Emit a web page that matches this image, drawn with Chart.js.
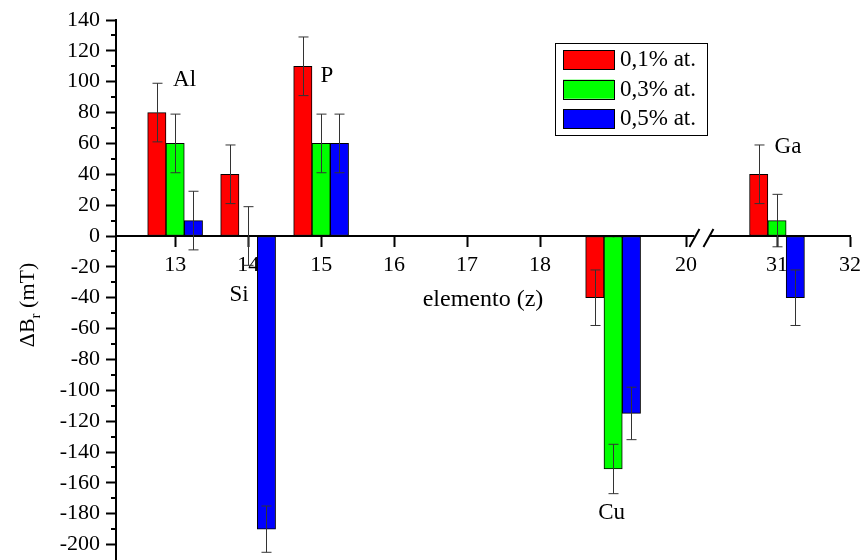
<!DOCTYPE html>
<html>
<head>
<meta charset="utf-8">
<title>ΔBr por elemento</title>
<script src="https://cdn.jsdelivr.net/npm/chart.js@4.4.1/dist/chart.umd.min.js"></script>
<style>
  html, body { margin: 0; padding: 0; background: #fff; }
  #grafico { display: block; }
</style>
</head>
<body>
<canvas id="grafico" width="864" height="560"></canvas>
<script>
// número atómico del dopante y desplazamiento del campo de resonancia (mT)
const elementos = [13, 14, 15, 19, 31];
const simbolos = ['Al', 'Si', 'P', 'Cu', 'Ga'];
const conc01 = [80, 40, 110, -40, 40];
const conc03 = [60, 0, 60, -151, 10];
const conc05 = [10, -190, 60, -115, -40];
const err01 = [19, 19, 19, 18, 19];
const err03 = [19, 19, 19, 16, 17];
const err05 = [19, 15, 19, 17, 18];
const etiquetasSerie = ['0,1% at.', '0,3% at.', '0,5% at.'];
const coloresSerie = ['#ff0000', '#00ff00', '#0000ff'];
const ticksX = [13, 14, 15, 16, 17, 18, 19, 20, 31, 32];
const ticksY = [-200, -180, -160, -140, -120, -100, -80, -60, -40, -20, 0, 20, 40, 60, 80, 100, 120, 140];
// posición (z, ΔBr) de los símbolos de cada elemento
const posSimbolos = [[13.13, 101], [13.875, -38], [15.08, 104], [18.98, -179.5], [31.15, 58]];

// corte del eje x entre 20 y 31
const SALTO = 9.755;
const CORTE = 20.21;
function ejeX(z) { return z > 25 ? z - SALTO : z; }

const fuente = "'Liberation Serif', 'Times New Roman', serif";
Chart.defaults.font.family = fuente;
Chart.defaults.font.size = 22;
Chart.defaults.color = '#000';

const errores = [err01, err03, err05];
const valores = [conc01, conc03, conc05];

const decoracion = {
    id: 'decoracion',
    afterDatasetsDraw(chart) {
        const ctx = chart.ctx;
        const y = chart.scales.y;
        ctx.save();
        ctx.strokeStyle = '#333';
        ctx.lineWidth = 1;
        chart.data.datasets.forEach((ds, d) => {
            chart.getDatasetMeta(d).data.forEach((bar, i) => {
                const v = ds.data[i].y;
                const e = errores[d][i];
                const x = Math.round(bar.x) + 0.5;
                const yA = y.getPixelForValue(v + e);
                const yB = y.getPixelForValue(v - e);
                ctx.beginPath();
                ctx.moveTo(x, yA); ctx.lineTo(x, yB);
                ctx.moveTo(x - 5, yA); ctx.lineTo(x + 5, yA);
                ctx.moveTo(x - 5, yB); ctx.lineTo(x + 5, yB);
                ctx.stroke();
            });
        });
        ctx.restore();
    },
    afterDraw(chart) {
        const ctx = chart.ctx;
        const x = chart.scales.x;
        const y = chart.scales.y;
        const area = chart.chartArea;
        ctx.save();

        // ticks menores del eje y
        ctx.strokeStyle = '#000';
        ctx.lineWidth = 2;
        ctx.beginPath();
        ticksY.forEach(t => {
            const py = Math.round(y.getPixelForValue(t + 10));
            if (t + 10 < 140) {
                ctx.moveTo(area.left - 5, py);
                ctx.lineTo(area.left, py);
            }
        });
        ctx.stroke();

        // corte del eje x
        const cx = x.getPixelForValue(CORTE);
        const cy = y.getPixelForValue(0);
        ctx.fillStyle = '#fff';
        ctx.fillRect(cx - 7, cy - 3, 15, 6);
        ctx.beginPath();
        ctx.moveTo(cx - 12, cy + 11); ctx.lineTo(cx - 2, cy - 7);
        ctx.moveTo(cx + 2, cy + 11); ctx.lineTo(cx + 12, cy - 7);
        ctx.stroke();

        ctx.fillStyle = '#000';
        // símbolos de los elementos
        ctx.font = '23px ' + fuente;
        ctx.textAlign = 'center';
        ctx.textBaseline = 'middle';
        simbolos.forEach((s, i) => {
            const p = posSimbolos[i];
            ctx.fillText(s, x.getPixelForValue(ejeX(p[0])), y.getPixelForValue(p[1]));
        });

        // título del eje x
        ctx.font = '24px ' + fuente;
        ctx.fillText('elemento (z)', 483, 300);

        // título del eje y con subíndice
        ctx.save();
        ctx.translate(34, 305);
        ctx.rotate(-Math.PI / 2);
        ctx.textAlign = 'left';
        ctx.textBaseline = 'alphabetic';
        ctx.font = '22px ' + fuente;
        const w1 = ctx.measureText('ΔB').width;
        const w3 = ctx.measureText(' (mT)').width;
        ctx.font = '15px ' + fuente;
        const w2 = ctx.measureText('r').width;
        let px = -(w1 + w2 + w3) / 2;
        ctx.font = '22px ' + fuente;
        ctx.fillText('ΔB', px, 0);
        ctx.font = '15px ' + fuente;
        ctx.fillText('r', px + w1, 6);
        ctx.font = '22px ' + fuente;
        ctx.fillText(' (mT)', px + w1 + w2, 0);
        ctx.restore();

        // leyenda
        ctx.strokeStyle = '#000';
        ctx.lineWidth = 1;
        ctx.strokeRect(555.5, 43.5, 152, 92);
        ctx.font = '23px ' + fuente;
        ctx.textAlign = 'left';
        chart.data.datasets.forEach((ds, d) => {
            const ty = 50 + d * 29.7;
            ctx.fillStyle = ds.backgroundColor;
            ctx.fillRect(563, ty, 51, 19);
            ctx.strokeRect(563.5, Math.round(ty) + 0.5, 51, 19);
            ctx.fillStyle = '#000';
            ctx.fillText(ds.label, 620, ty + 10);
        });
        ctx.restore();
    }
};

function serie(d) {
    return {
        label: etiquetasSerie[d],
        data: elementos.map((z, i) => ({ x: ejeX(z), y: valores[d][i] })),
        backgroundColor: coloresSerie[d],
        borderColor: '#000',
        borderWidth: 1,
        borderSkipped: false,
        barThickness: 18.3
    };
}

new Chart(document.getElementById('grafico'), {
    type: 'bar',
    data: { datasets: [serie(0), serie(1), serie(2)] },
    options: {
        responsive: false,
        devicePixelRatio: 1,
        animation: false,
        layout: { padding: { top: 20, right: 14, bottom: 0, left: 0 } },
        plugins: { legend: { display: false }, tooltip: { enabled: false } },
        scales: {
            x: {
                type: 'linear',
                position: { y: 0 },
                min: 12.19,
                max: ejeX(32),
                offset: false,
                z: 1,
                afterBuildTicks(scale) {
                    scale.ticks = ticksX.map(t => ({ value: ejeX(t) }));
                },
                afterFit(scale) {
                    scale.paddingLeft = 0;
                    scale.paddingRight = 0;
                },
                ticks: {
                    padding: 6,
                    callback(v) { return String(Math.round(v > 20.5 ? v + SALTO : v)); }
                },
                grid: {
                    offset: false,
                    drawOnChartArea: false,
                    tickLength: 10,
                    tickWidth: 2,
                    tickColor: '#000'
                },
                border: { color: '#000', width: 2 }
            },
            y: {
                type: 'linear',
                position: 'left',
                min: -210,
                max: 140,
                afterBuildTicks(scale) {
                    scale.ticks = ticksY.map(t => ({ value: t }));
                },
                afterFit(scale) {
                    scale.width = 116;
                    scale.paddingTop = 0;
                    scale.paddingBottom = 0;
                },
                ticks: { padding: 6 },
                grid: {
                    drawOnChartArea: false,
                    tickLength: 10,
                    tickWidth: 2,
                    tickColor: '#000'
                },
                border: { color: '#000', width: 2 }
            }
        }
    },
    plugins: [decoracion]
});
</script>
</body>
</html>
